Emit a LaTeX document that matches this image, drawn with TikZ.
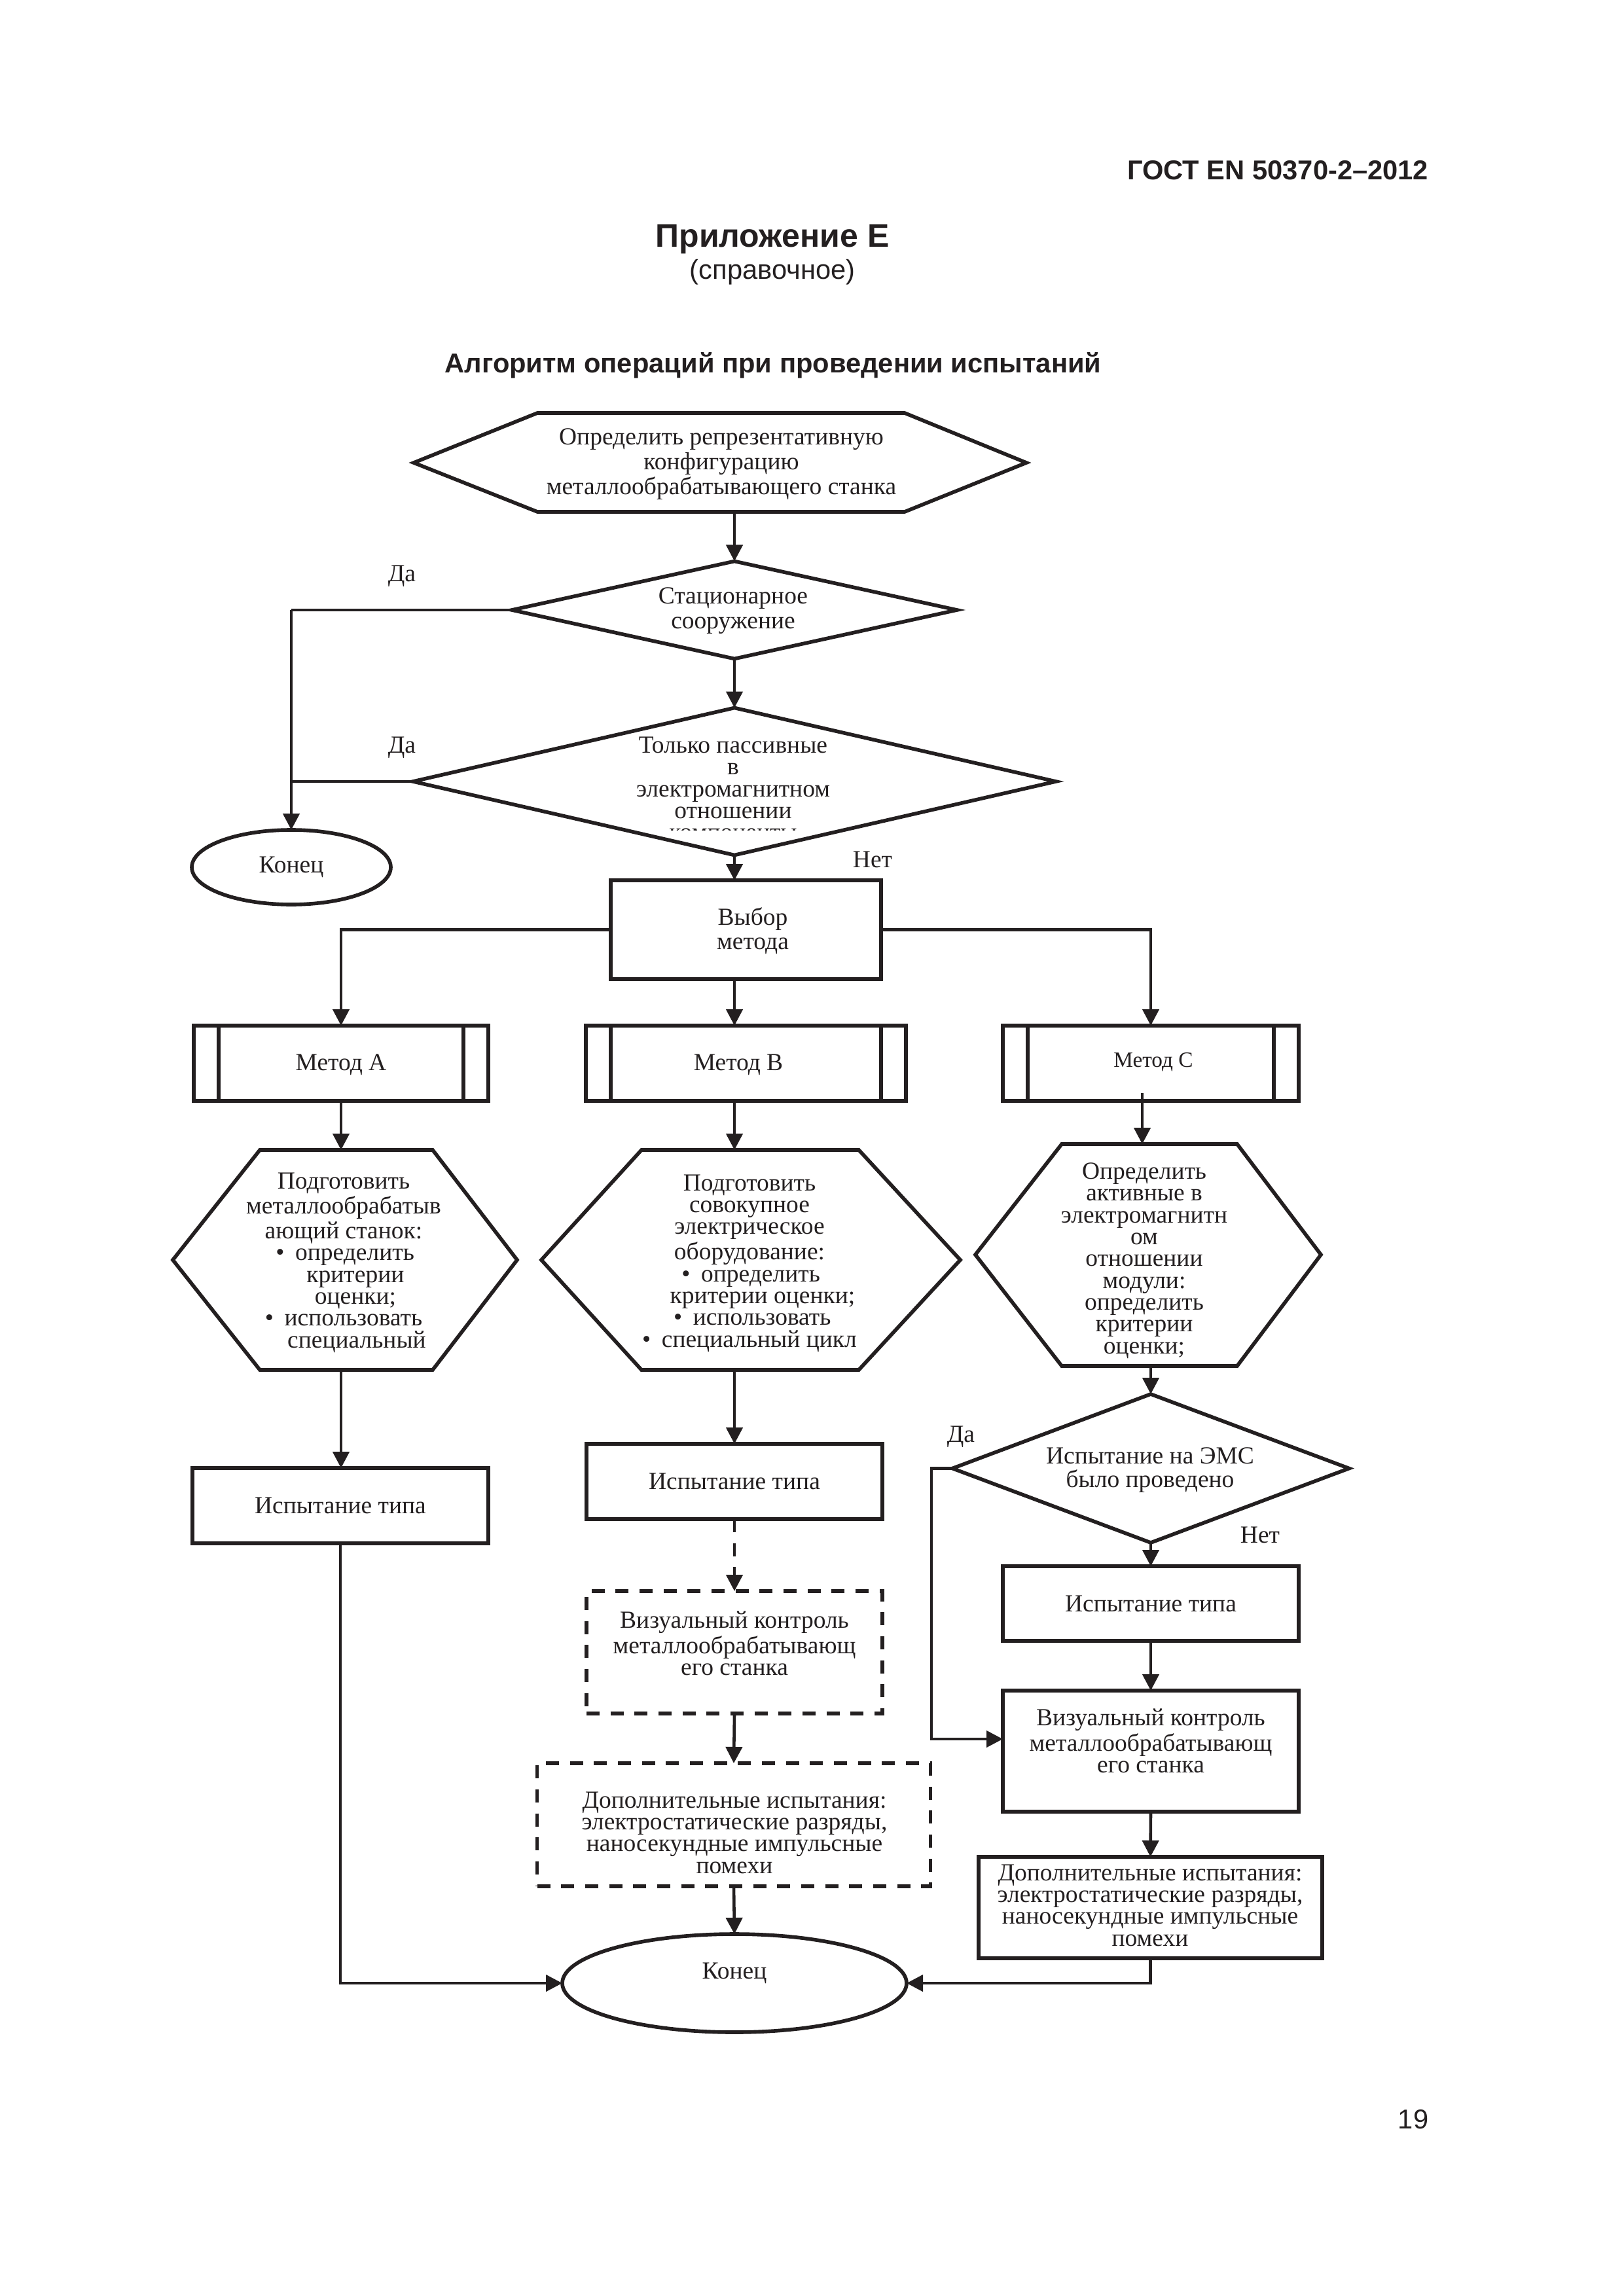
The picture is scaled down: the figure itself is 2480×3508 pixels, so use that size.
\documentclass[tikz,border=0pt]{standalone}
\usepackage{fontspec}
\setmainfont{Liberation Serif}
\newfontfamily\arialfont{Liberation Sans}
\usetikzlibrary{arrows.meta,shapes.geometric}
\definecolor{ink}{RGB}{35,31,32}
\begin{document}
\begin{tikzpicture}[x=0.24pt,y=-0.24pt,
  shp/.style={draw=ink,line width=1.35pt,line join=miter},
  con/.style={draw=ink,line width=1.1pt},
  arr/.style={con,-{Triangle[length=6pt,width=6pt]}},
  dsh/.style={dash pattern=on 4.8pt off 4pt},
  bx/.style 2 args={shp,rectangle,inner sep=0pt,outer sep=0pt,minimum width=#1*0.24pt,minimum height=#2*0.24pt},
  dm/.style 2 args={shp,diamond,inner sep=0pt,outer sep=0pt,minimum width=#1*0.24pt,minimum height=#2*0.24pt},
  el/.style 2 args={shp,ellipse,inner sep=0pt,outer sep=0pt,minimum width=#1*0.24pt,minimum height=#2*0.24pt},
  tx/.style={font=\fontsize{9}{#1}\selectfont,align=center,inner sep=0pt,text=ink},
  lbl/.style={font=\fontsize{9}{10}\selectfont,inner sep=0pt,text=ink},
  hd/.style={inner sep=0pt,text=ink}
]
\useasboundingbox (0,0) rectangle (2480,3508);

% header
\node[hd,font=\arialfont\bfseries\fontsize{10}{12}\selectfont,anchor=base east] (gost) at (2183,275) {ГОСТ EN 50370-2–2012};
\node[hd,font=\arialfont\bfseries\fontsize{12}{14}\selectfont,anchor=base] (pril) at (1180,378) {Приложение Е};
\node[hd,font=\arialfont\fontsize{10}{12}\selectfont,anchor=base] (sprav) at (1180,427) {(справочное)};
\node[hd,font=\arialfont\bfseries\fontsize{10}{12}\selectfont,anchor=base] (alg) at (1181,570) {Алгоритм операций при проведении испытаний};
\node[hd,font=\arialfont\fontsize{10}{12}\selectfont,anchor=base east] (page) at (2183,3252) {19};

% top hexagon
\draw[shp] (632,707) -- (821,631) -- (1382,631) -- (1568,707) -- (1382,782) -- (821,782) -- cycle;
\node[tx=9.1] (t1) at (1102,709) {Определить репрезентативную\\конфигурацию\\металлообрабатывающего станка};
\coordinate (h1s) at (1122,782);
\coordinate (ax) at (1122,0);

% decision 1
\node[dm={680}{149}] (d1) at (1122,932) {};
\node[tx=9.1] (td1) at (1120,933) {Стационарное\\сооружение};
\draw[arr] (h1s) -- (d1.north);

% decision 2
\node[dm={982}{225}] (d2) at (1122,1194) {};
\begin{scope}
\clip (600,1060) rectangle (1650,1268);
\node[tx=8] (td2) at (1120,1205) {Только пассивные\\в\\электромагнитном\\отношении\\компоненты};
\end{scope}
\draw[arr] (d1.south) -- (d2.north);

% left end
\coordinate (lx) at (445,932);
\node[el={304}{114},font=\fontsize{9}{10}\selectfont,text=ink] (e1) at (445,1325) {Конец};
\draw[con] (d1.west) -- (lx);
\draw[arr] (lx) -- (e1.north);
\draw[con] (d2.west) -- (d2.west -| lx);
\node[lbl] (da1) at (614,880) {Да};
\node[lbl] (da2) at (614,1142) {Да};
\node[lbl] (net1) at (1333,1313) {Нет};

% choice of method
\node[bx={413}{151}] (vyb) at (1139.5,1420.5) {};
\node[tx=8.9] (tvyb) at (1150,1422) {Выбор\\метода};
\draw[arr] (d2.south) -- (d2.south |- vyb.north);

% method boxes
\node[bx={450}{115}] (mA) at (521,1624.5) {};
\node[bx={489}{115}] (mB) at (1139.5,1624.5) {};
\node[bx={452}{115}] (mC) at (1758,1624.5) {};
\foreach \m in {mA,mB,mC}{
  \draw[shp] ([xshift=9.1pt]\m.north west) -- ([xshift=9.1pt]\m.south west);
  \draw[shp] ([xshift=-9.1pt]\m.north east) -- ([xshift=-9.1pt]\m.south east);
}
\node[tx=10] (tmA) at (521,1627) {Метод A};
\node[tx=10] (tmB) at (1128,1627) {Метод B};
\node[tx=10,font=\fontsize{8}{9}\selectfont] (tmC) at (1762,1623) {Метод C};
\draw[arr] (vyb.west) -| (mA.north);
\draw[arr] (vyb.east) -| (mC.north);
\draw[arr] (ax |- vyb.south) -- (ax |- mB.north);

% hexagons
\draw[shp] (264,1925) -- (397,1757) -- (661,1757) -- (790,1925) -- (661,2093) -- (397,2093) -- cycle;
\draw[shp] (827,1925) -- (980,1757) -- (1312,1757) -- (1467,1925) -- (1312,2093) -- (980,2093) -- cycle;
\draw[shp] (1490,1917) -- (1622,1748) -- (1890,1748) -- (2018,1917) -- (1890,2087) -- (1622,2087) -- cycle;
\coordinate (hAn) at (521,1757);
\coordinate (hAs) at (521,2093);
\coordinate (hBn) at (1122,1757);
\coordinate (hBs) at (1122,2093);
\coordinate (mCi) at (1745,1670);
\coordinate (hCn) at (1745,1748);
\coordinate (hCs) at (1758,2087);
\draw[arr] (mA.south) -- (hAn);
\draw[arr] (ax |- mB.south) -- (hBn);
\draw[arr] (mCi) -- (hCn);

\node[tx=8] (thA) at (525,1929) {Подготовить\\металлообрабатыв\\ающий станок:\\\hspace*{1pt}•\hspace{4pt}определить\\\hspace*{8.6pt}критерии\\\hspace*{8.6pt}оценки;\\•\hspace{4pt}использовать\\\hspace*{9.6pt}специальный};
\node[tx=8] (thB) at (1145,1930) {Подготовить\\совокупное\\электрическое\\оборудование:\\\hspace*{1pt}•\hspace{4pt}определить\\\hspace*{9.6pt}критерии оценки;\\\hspace*{2pt}•\hspace{4pt}использовать\\•\hspace{4pt}специальный цикл};
\node[tx=8] (thC) at (1748,1926) {Определить\\активные в\\электромагнитн\\ом\\отношении\\модули:\\определить\\критерии\\оценки;};

% column A
\node[bx={452}{115},tx=10] (bA) at (520,2300.5) {Испытание типа};
\draw[arr] (hAs) -- (hAs |- bA.north);

% column B
\node[bx={452}{115},tx=10] (bB) at (1122,2263.5) {Испытание типа};
\node[bx={452}{187},dsh] (visB) at (1122,2524.5) {};
\node[tx=7.8] (tvisB) at (1122,2511) {Визуальный контроль\\металлообрабатывающ\\его станка};
\node[bx={601}{188},dsh] (dopB) at (1121,2788) {};
\node[tx=8] (tdopB) at (1122,2800) {Дополнительные испытания:\\электростатические разряды,\\наносекундные импульсные\\помехи};
\node[el={526}{150}] (e2) at (1122,3030) {};
\node[lbl] (te2) at (1122,3015) {Конец};
\draw[arr] (hBs) -- (bB.north);
\draw[arr,dsh] (bB.south) -- (visB.north);
\draw[arr] (visB.south) -- (dopB.north);
\draw[arr] (dopB.south) -- (e2.north);
\draw[arr] (bA.south) |- (e2.west);

% column C
\node[dm={606}{227}] (dC) at (1758,2243.5) {};
\node[tx=8.7] (tdC) at (1757,2246) {Испытание на ЭМС\\было проведено};
\node[lbl] (da3) at (1468,2195) {Да};
\node[lbl] (net2) at (1925,2345) {Нет};
\node[bx={452}{114},tx=10] (bC) at (1758,2450) {Испытание типа};
\node[bx={452}{185}] (visC) at (1758,2675.5) {};
\node[tx=7.8] (tvisC) at (1758,2660) {Визуальный контроль\\металлообрабатывающ\\его станка};
\node[bx={525}{155}] (dopC) at (1757.5,2914.5) {};
\node[tx=8] (tdopC) at (1757,2911) {Дополнительные испытания:\\электростатические разряды,\\наносекундные импульсные\\помехи};
\coordinate (yesC) at (1423,2657);
\draw[arr] (hCs) -- (dC.north);
\draw[arr] (dC.south) -- (bC.north);
\draw[arr] (bC.south) -- (visC.north);
\draw[arr] (visC.south) -- (dopC.north);
\draw[arr] (dC.west) -| (yesC) -- (yesC -| visC.west);
\draw[arr] (dopC.south) |- (e2.east);
\end{tikzpicture}
\end{document}
